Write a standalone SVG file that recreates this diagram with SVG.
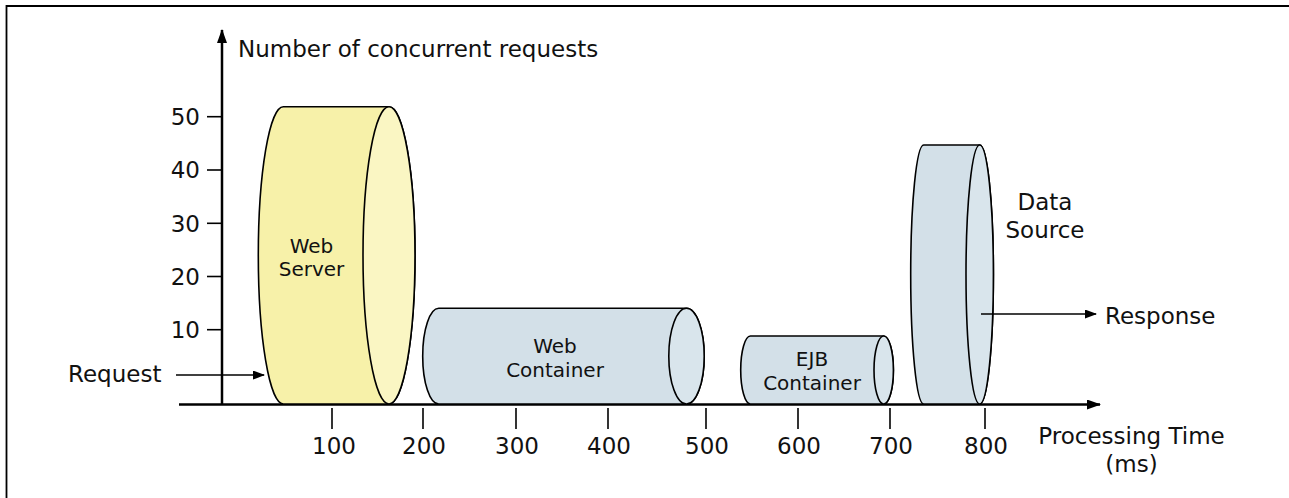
<svg xmlns="http://www.w3.org/2000/svg" width="1289" height="498" viewBox="0 0 1289 498">
<style>
text{font-family:"DejaVu Sans","Liberation Sans",sans-serif;fill:#111}
.ax{font-size:23px}
.nd{font-size:20px}
.c{text-anchor:middle}
.r{text-anchor:end}
.cyl{stroke:#000;stroke-width:1.6}
.yb{fill:#f7f1a9}
.yf{fill:#faf6c3}
.bb{fill:#d3e0e8}
.bf{fill:#d9e5ec}
.axis{stroke:#000;stroke-width:2.5;fill:none}
.tick{stroke:#000;stroke-width:1.6}
.arr{stroke:#000;stroke-width:1.6;fill:none}
</style>
<defs>
<marker id="big" markerWidth="14" markerHeight="10" refX="13" refY="5" orient="auto" markerUnits="userSpaceOnUse">
<path d="M0,0 L14,5 L0,10 Z" fill="#000"/>
</marker>
<marker id="small" markerWidth="12" markerHeight="9" refX="11" refY="4.5" orient="auto" markerUnits="userSpaceOnUse">
<path d="M0,0 L12,4.5 L0,9 Z" fill="#000"/>
</marker>
</defs>
<rect width="1289" height="498" fill="#fff"/>
<path d="M6.5,498 V6 H1289" fill="none" stroke="#000" stroke-width="1.8"/>

<g id="axes">
<line class="axis" x1="222" y1="405" x2="222" y2="30" marker-end="url(#big)"/>
<line class="axis" x1="179" y1="404.5" x2="1100" y2="404.5" marker-end="url(#big)"/>
<g class="tick">
<line x1="207" y1="116.7" x2="222" y2="116.7"/>
<line x1="207" y1="170" x2="222" y2="170"/>
<line x1="207" y1="223.3" x2="222" y2="223.3"/>
<line x1="207" y1="276.5" x2="222" y2="276.5"/>
<line x1="207" y1="329.7" x2="222" y2="329.7"/>
<line x1="332" y1="408" x2="332" y2="429"/>
<line x1="423" y1="408" x2="423" y2="429"/>
<line x1="516" y1="408" x2="516" y2="429"/>
<line x1="608" y1="408" x2="608" y2="429"/>
<line x1="706" y1="408" x2="706" y2="429"/>
<line x1="798" y1="408" x2="798" y2="429"/>
<line x1="890" y1="408" x2="890" y2="429"/>
<line x1="985" y1="408" x2="985" y2="429"/>
</g>
<g class="ax r">
<text x="200" y="125">50</text>
<text x="200" y="178">40</text>
<text x="200" y="231.5">30</text>
<text x="200" y="284.5">20</text>
<text x="200" y="338">10</text>
</g>
<g class="ax c">
<text x="334" y="454">100</text>
<text x="424" y="454">200</text>
<text x="517" y="454">300</text>
<text x="609" y="454">400</text>
<text x="707" y="454">500</text>
<text x="799" y="454">600</text>
<text x="891" y="454">700</text>
<text x="986" y="454">800</text>
<text x="1131.5" y="444">Processing Time</text>
<text x="1131.5" y="472">(ms)</text>
</g>
<text class="ax" x="238" y="56.5">Number of concurrent requests</text>
</g>

<g id="web-server">
<path class="cyl yb" d="M283.3,106.7 A25,148.65 0 0 0 283.3,404 H389 A26,148.65 0 0 0 389,106.7 Z"/>
<ellipse class="cyl yf" cx="389" cy="255.35" rx="26" ry="148.65"/>
<text class="nd c" x="311.5" y="252.5">Web</text>
<text class="nd c" x="311.5" y="275.5">Server</text>
</g>

<g id="web-container">
<path class="cyl bb" d="M438.7,308.3 A16,47.85 0 0 0 438.7,404 H686.5 A17.7,47.85 0 0 0 686.5,308.3 Z"/>
<ellipse class="cyl bf" cx="686.5" cy="356.15" rx="17.7" ry="47.85"/>
<text class="nd c" x="555" y="352.5">Web</text>
<text class="nd c" x="555" y="377">Container</text>
</g>

<g id="ejb-container">
<path class="cyl bb" d="M750.4,336 A9.7,34 0 0 0 750.4,404 H883.7 A9.7,34 0 0 0 883.7,336 Z"/>
<ellipse class="cyl bf" cx="883.7" cy="370" rx="9.7" ry="34"/>
<text class="nd c" x="812" y="366">EJB</text>
<text class="nd c" x="812" y="390">Container</text>
</g>

<g id="data-source">
<path class="cyl bb" d="M923.7,145 A13,129.5 0 0 0 923.7,404 H979.7 A13.7,129.5 0 0 0 979.7,145 Z"/>
<ellipse class="cyl bf" cx="979.7" cy="274.5" rx="13.7" ry="129.5"/>
<text class="ax c" x="1045" y="210">Data</text>
<text class="ax c" x="1045" y="237.5">Source</text>
</g>

<g id="connectors">
<line class="arr" x1="176" y1="375" x2="264" y2="375" marker-end="url(#small)"/>
<line class="arr" x1="981" y1="314" x2="1096" y2="314" marker-end="url(#small)"/>
</g>
<text class="ax" x="68" y="382">Request</text>
<text class="ax" x="1105" y="323.5">Response</text>
</svg>
